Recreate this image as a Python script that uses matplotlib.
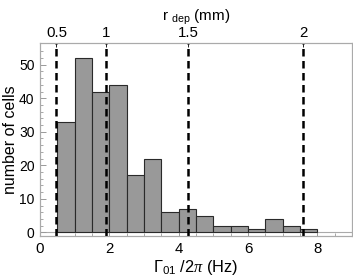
import matplotlib
matplotlib.use("Agg")
import matplotlib.pyplot as plt
import numpy as np

plt.rcParams['font.family'] = ['Liberation Sans', 'DejaVu Sans']
plt.rcParams['mathtext.fontset'] = 'custom'
plt.rcParams['mathtext.rm'] = 'Liberation Sans'
plt.rcParams['mathtext.it'] = 'Liberation Serif:italic'

bin_edges = [0.5, 1.0, 1.5, 2.0, 2.5, 3.0, 3.5, 4.0, 4.5, 5.0, 5.5, 6.0, 6.5, 7.0, 7.5, 8.0]
counts = [33, 52, 42, 44, 17, 22, 6, 7, 5, 2, 2, 1, 4, 2, 1]
r_dep_ticks = [0.5, 1.0, 1.5, 2.0]
r_dep_labels = ["0.5", "1", "1.5", "2"]
conv = 1.9  # Gamma/2pi = conv * r_dep^2

FS = 10.8

fig = plt.figure(figsize=(3.53, 2.79), dpi=100)
ax = fig.add_axes([40/353, 1-236/279, 312/353, 193/279])

widths = np.diff(bin_edges)
ax.bar(bin_edges[:-1], counts, width=widths, align='edge',
       color='#999999', edgecolor='#2a2a2a', linewidth=0.8, zorder=2)
ax.axhline(0, color='#aaaaaa', linewidth=0.8, zorder=1)

line_pos = [conv * r**2 for r in r_dep_ticks]
for x in line_pos:
    ax.axvline(x, color='black', linestyle=(0, (3.0, 1.8)), linewidth=1.8, zorder=3)

ax.set_xlim(0, 9)
ax.set_ylim(-1.1, 56.5)
ax.set_xticks([0, 2, 4, 6, 8])
ax.set_xticks(np.arange(0, 9.01, 0.5), minor=True)
ax.set_yticks([0, 10, 20, 30, 40, 50])
ax.set_yticks(np.arange(0, 56, 2), minor=True)

for s in ax.spines.values():
    s.set_color('#aaaaaa')
    s.set_linewidth(0.8)

ax.tick_params(which='both', direction='in', color='#999999',
               top=False, right=False, pad=4)
ax.tick_params(axis='x', labelsize=FS)
ax.tick_params(axis='y', labelsize=10)
ax.tick_params(which='major', length=4, width=0.7)
ax.tick_params(which='minor', length=2.2, width=0.6)

ax.set_ylabel('number of cells', fontsize=11.5)
ax.yaxis.set_label_coords(-0.07, 0.5)
ax.set_xlabel(r'$\mathrm{\Gamma}_{\mathrm{01}}$ /2$\mathit{\pi}$ (Hz)', fontsize=11.8, labelpad=2)

top = ax.twiny()
top.set_xlim(ax.get_xlim())
top.set_xticks(line_pos)
top.set_xticklabels(r_dep_labels)
top.tick_params(direction='in', color='#222222', labelsize=FS, length=3, width=0.7, pad=2)
for s in top.spines.values():
    s.set_color('#aaaaaa')
    s.set_linewidth(0.8)
top.set_xlabel(r'r $_{\mathrm{dep}}$ (mm)', fontsize=11, labelpad=4)

fig.savefig('out.png', dpi=100)
